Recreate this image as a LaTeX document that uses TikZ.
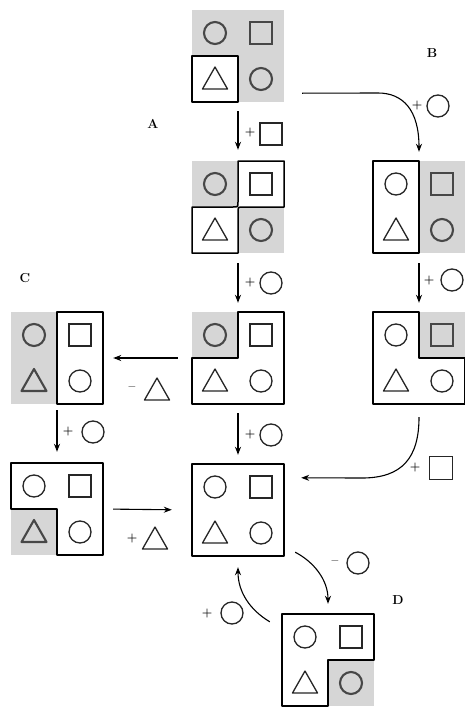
\documentclass[tikz,border=0pt]{standalone}
\usetikzlibrary{arrows.meta}
\tikzset{
  blk/.style={minimum width=92pt,minimum height=92pt,inner sep=0pt,draw=none},
  outl/.style={line width=1.5pt,line join=round},
  fig/.style={line width=1.3pt,draw=black!85},
  sfig/.style={line width=2.1pt,draw=black!72},
  grayfill/.style={fill=black!16},
  arr/.style={line width=1.1pt,-{Stealth[length=8pt,width=6pt]}},
  op/.style={font=\large\bfseries,inner sep=0pt},
  lett/.style={font=\fontsize{13pt}{13pt}\selectfont\bfseries,inner sep=0pt}
}
\newcommand\mycirc[3][fig]{\draw[#1] (#2,#3) circle (11pt);}
\newcommand\mysq[3][fig]{\draw[#1] (#2-11,#3-11) rectangle (#2+11,#3+11);}
\newcommand\mytri[3][fig]{\draw[#1,line join=round] (#2-12.5,#3+10) -- (#2+12.5,#3+10) -- (#2,#3-12) -- cycle;}
\newcommand\gcell[2]{\fill[grayfill] (#1,#2) rectangle ++(46,46);}
\begin{document}
\begin{tikzpicture}[x=1pt,y=-1pt]
\fill[white] (0,0) rectangle (465,707);
\useasboundingbox (0,0) rectangle (465,707);

% ---------- block nodes ----------
\node[blk] (T)  at (238,56)  {};
\node[blk] (A2) at (238,207) {};
\node[blk] (B1) at (419,207) {};
\node[blk] (A3) at (238,358) {};
\node[blk] (B2) at (419,358) {};
\node[blk] (C1) at (57,358)  {};
\node[blk] (C2) at (57,509)  {};
\node[blk] (E)  at (238,510) {};
\node[blk] (D)  at (328,660) {};

% ---------- T ----------
\begin{scope}[shift={(192,10)}]
  \gcell{0}{0}\gcell{46}{0}\gcell{46}{46}
  \fill[white] (0,46) rectangle (46,92);
  \draw[outl] (0,46) rectangle (46,92);
  \mycirc[sfig]{23}{23}\mysq[sfig]{69}{23}\mycirc[sfig]{69}{69}
  \mytri{23}{69}
\end{scope}

% ---------- A2 ----------
\begin{scope}[shift={(192,161)}]
  \gcell{0}{0}\gcell{46}{46}
  \draw[outl] (46,0) -- (92,0) -- (92,46) -- (51,46) .. controls (46,46) .. (46,51)
     -- (46,92) -- (0,92) -- (0,46) -- (41,46) .. controls (46,46) .. (46,41) -- cycle;
  \mycirc[sfig]{23}{23}\mycirc[sfig]{69}{69}
  \mysq{69}{23}\mytri{23}{69}
\end{scope}

% ---------- B1 ----------
\begin{scope}[shift={(373,161)}]
  \gcell{46}{0}\gcell{46}{46}
  \draw[outl] (0,0) rectangle (46,92);
  \mysq[sfig]{69}{23}\mycirc[sfig]{69}{69}
  \mycirc{23}{23}\mytri{23}{69}
\end{scope}

% ---------- A3 ----------
\begin{scope}[shift={(192,312)}]
  \gcell{0}{0}
  \draw[outl] (46,0) -- (92,0) -- (92,92) -- (0,92) -- (0,46) -- (46,46) -- cycle;
  \mycirc[sfig]{23}{23}
  \mysq{69}{23}\mytri{23}{69}\mycirc{69}{69}
\end{scope}

% ---------- B2 ----------
\begin{scope}[shift={(373,312)}]
  \gcell{46}{0}
  \draw[outl] (0,0) -- (46,0) -- (46,46) -- (92,46) -- (92,92) -- (0,92) -- cycle;
  \mysq[sfig]{69}{23}
  \mycirc{23}{23}\mytri{23}{69}\mycirc{69}{69}
\end{scope}

% ---------- C1 ----------
\begin{scope}[shift={(11,312)}]
  \gcell{0}{0}\gcell{0}{46}
  \draw[outl] (46,0) rectangle (92,92);
  \mycirc[sfig]{23}{23}\mytri[sfig]{23}{69}
  \mysq{69}{23}\mycirc{69}{69}
\end{scope}

% ---------- C2 ----------
\begin{scope}[shift={(11,463)}]
  \gcell{0}{46}
  \draw[outl] (0,0) -- (92,0) -- (92,92) -- (46,92) -- (46,46) -- (0,46) -- cycle;
  \mytri[sfig]{23}{69}
  \mycirc{23}{23}\mysq{69}{23}\mycirc{69}{69}
\end{scope}

% ---------- E ----------
\begin{scope}[shift={(192,464)}]
  \draw[outl] (0,0) rectangle (92,92);
  \mycirc{23}{23}\mysq{69}{23}\mytri{23}{69}\mycirc{69}{69}
\end{scope}

% ---------- D ----------
\begin{scope}[shift={(282,614)}]
  \gcell{46}{46}
  \draw[outl] (0,0) -- (92,0) -- (92,46) -- (46,46) -- (46,92) -- (0,92) -- cycle;
  \mycirc[sfig]{69}{69}
  \mycirc{23}{23}\mysq{69}{23}\mytri{23}{69}
\end{scope}

% ---------- straight arrows ----------
\draw[arr,shorten <=9pt,shorten >=11pt] (T.south) -- (A2.north);
\draw[arr,shorten <=10pt,shorten >=9pt] (A2.south) -- (A3.north);
\draw[arr,shorten <=9pt,shorten >=9pt] (A3.south) -- (E.north);
\draw[arr,shorten <=10pt,shorten >=9pt] (B1.south) -- (B2.north);
\draw[arr,shorten <=6pt,shorten >=11pt] (C1.south) -- (C2.north);
\draw[arr,shorten <=14pt,shorten >=10pt] (A3.west) -- (C1.east);
\draw[arr,shorten <=10pt,shorten >=20pt] (C2.east) -- (E.west);

% ---------- curved arrows ----------
\draw[arr] ([xshift=18pt,yshift=9pt]T.south east) -- (378,93)
   .. controls (403,93) and (419,110) .. ([yshift=9pt]B1.north);
\draw[arr] ([yshift=-13pt]B2.south) .. controls (419,458) and (402,478) .. (362,478)
   -- ([xshift=17pt,yshift=-14pt]E.north east);
\draw[arr] ([xshift=11pt,yshift=4pt]E.south east) .. controls (314,562) and (328,580) .. ([yshift=10pt]D.north);
\draw[arr] ([xshift=-12pt,yshift=-8pt]D.north west) .. controls (250,610) and (238,592) .. ([yshift=-11pt]E.south);

% ---------- operation labels ----------
\node[op] (l1) at (250,133) {+}; \mysq{271}{134}
\node[op] (l2) at (250,283) {+}; \mycirc{271}{283}
\node[op] (l3) at (250,435) {+}; \mycirc{271}{435}
\node[op] (l4) at (429,281) {+}; \mycirc{452}{280}
\node[op] (l5) at (68,432) {+};  \mycirc{93}{432}
\node[op] (l6) at (132,389) {--}; \mytri{157}{390}
\node[op] (l7) at (132,538) {+}; \mytri{155}{539}
\node[op] (l8) at (417,106) {+}; \mycirc{438}{106}
\node[op] (l9) at (415,468) {+}; \draw[fig] (429.5,456.5) rectangle (452.5,479.5);
\node[op] (l10) at (335,563) {--}; \mycirc{358}{563}
\node[op] (l11) at (207,613) {+}; \mycirc{232}{613}

% ---------- letters ----------
\node[lett] (la) at (153,124) {A};
\node[lett] (lb) at (432,53) {B};
\node[lett] (lc) at (25,278) {C};
\node[lett] (ld) at (398,600) {D};
\end{tikzpicture}
\end{document}
